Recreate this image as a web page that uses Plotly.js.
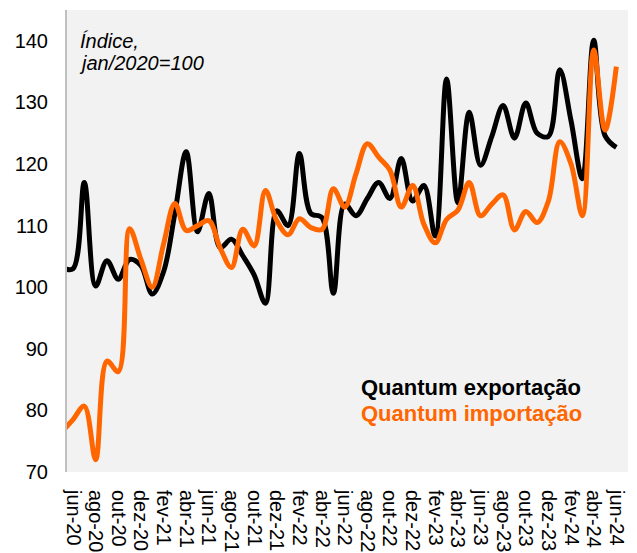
<!DOCTYPE html>
<html>
<head>
<meta charset="utf-8">
<script src="https://cdn.plot.ly/plotly-3.0.1.min.js"></script>
<style>html,body{margin:0;padding:0;background:#fff;}#chart{width:637px;height:553px;}</style>
</head>
<body>
<div id="chart"></div>
<script>
const months = ['mai-20','jun-20','jul-20','ago-20','set-20','out-20','nov-20','dez-20',
  'jan-21','fev-21','mar-21','abr-21','mai-21','jun-21','jul-21','ago-21','set-21','out-21','nov-21','dez-21',
  'jan-22','fev-22','mar-22','abr-22','mai-22','jun-22','jul-22','ago-22','set-22','out-22','nov-22','dez-22',
  'jan-23','fev-23','mar-23','abr-23','mai-23','jun-23','jul-23','ago-23','set-23','out-23','nov-23','dez-23',
  'jan-24','fev-24','mar-24','abr-24','mai-24','jun-24'];
const tickLabels = ['jun-20','ago-20','out-20','dez-20','fev-21','abr-21','jun-21','ago-21','out-21','dez-21',
  'fev-22','abr-22','jun-22','ago-22','out-22','dez-22','fev-23','abr-23','jun-23','ago-23','out-23','dez-23',
  'fev-24','abr-24','jun-24'];
const exportacao = [103.2,103,117,100.2,104.3,101.3,104.5,103.5,98.9,
  102.5,112,122,109,115.2,106.4,107.8,105.1,102,97.4,112.4,110,
  121.7,112,111.3,99,113.5,111.6,114.4,117,114.4,120.9,114,116.5,
  108.3,133.8,113.7,128.4,119.8,124.5,129.5,124.2,129.9,125,124.5,
  135.3,127,117.6,140.1,124.6,122.7];
const importacao = [76.5,78.5,80.7,72,88,86.3,109.5,104.5,100,
  107,113.6,109.2,110,110.8,106.4,103.2,109.4,106.7,115.7,110.8,108.5,
  111.1,109.7,109.4,116,113,118.4,123.3,121.1,119,113,116.5,110.2,
  107.2,111,112.5,117,111.6,113.5,115,109.3,112.3,110.5,114,
  123.6,120,111.6,138.5,125.5,135.8];
const seriesNames = ['Quantum exportação','Quantum importação'];
const unitNote = ['Índice,','jan/2020=100'];

const FONT = 'Liberation Sans, Arial, sans-serif';
const traces = [
  {x: months, y: exportacao, type: 'scatter', mode: 'lines', name: seriesNames[0],
   line: {color: '#000000', width: 5, shape: 'spline', smoothing: 1}},
  {x: months, y: importacao, type: 'scatter', mode: 'lines', name: seriesNames[1],
   line: {color: '#FF6600', width: 5, shape: 'spline', smoothing: 1}}
];
const layout = {
  width: 637, height: 553,
  margin: {l: 67, r: 9, t: 10, b: 81},
  paper_bgcolor: '#ffffff', plot_bgcolor: '#f2f2f2',
  showlegend: false,
  font: {family: FONT, size: 20, color: '#000'},
  xaxis: {type: 'category', range: [0.47, 50.03], tickmode: 'array', tickvals: tickLabels, ticktext: tickLabels,
          tickangle: 90, showgrid: false, zeroline: false, showline: false, ticks: '',
          ticklabelstandoff: 17, tickfont: {family: FONT, size: 20, color: '#000'}},
  yaxis: {range: [70, 145], tickvals: [70,80,90,100,110,120,130,140], showgrid: false, zeroline: false,
          showline: true, linecolor: '#c0c0c0', linewidth: 2, ticks: '', ticklabelstandoff: 13,
          tickfont: {family: FONT, size: 20, color: '#000'}},
  annotations: [
    {xref: 'paper', yref: 'paper', x: (78-67)/561, y: (472-41)/462, xanchor: 'left', yanchor: 'middle',
     text: '<i>' + unitNote[0] + '</i>', showarrow: false, font: {family: FONT, size: 20, color: '#000'}},
    {xref: 'paper', yref: 'paper', x: (77-67)/561, y: (472-63)/462, xanchor: 'left', yanchor: 'middle',
     text: '<i>' + unitNote[1] + '</i>', showarrow: false, font: {family: FONT, size: 20, color: '#000'}},
    {xref: 'paper', yref: 'paper', x: (359-67)/561, y: (472-387)/462, xanchor: 'left', yanchor: 'middle',
     text: '<b>' + seriesNames[0] + '</b>', showarrow: false, font: {family: FONT, size: 22, color: '#000000'}},
    {xref: 'paper', yref: 'paper', x: (359-67)/561, y: (472-413)/462, xanchor: 'left', yanchor: 'middle',
     text: '<b>' + seriesNames[1] + '</b>', showarrow: false, font: {family: FONT, size: 22, color: '#FF6600'}}
  ]
};
Plotly.newPlot('chart', traces, layout, {displayModeBar: false, staticPlot: true});
</script>
</body>
</html>
